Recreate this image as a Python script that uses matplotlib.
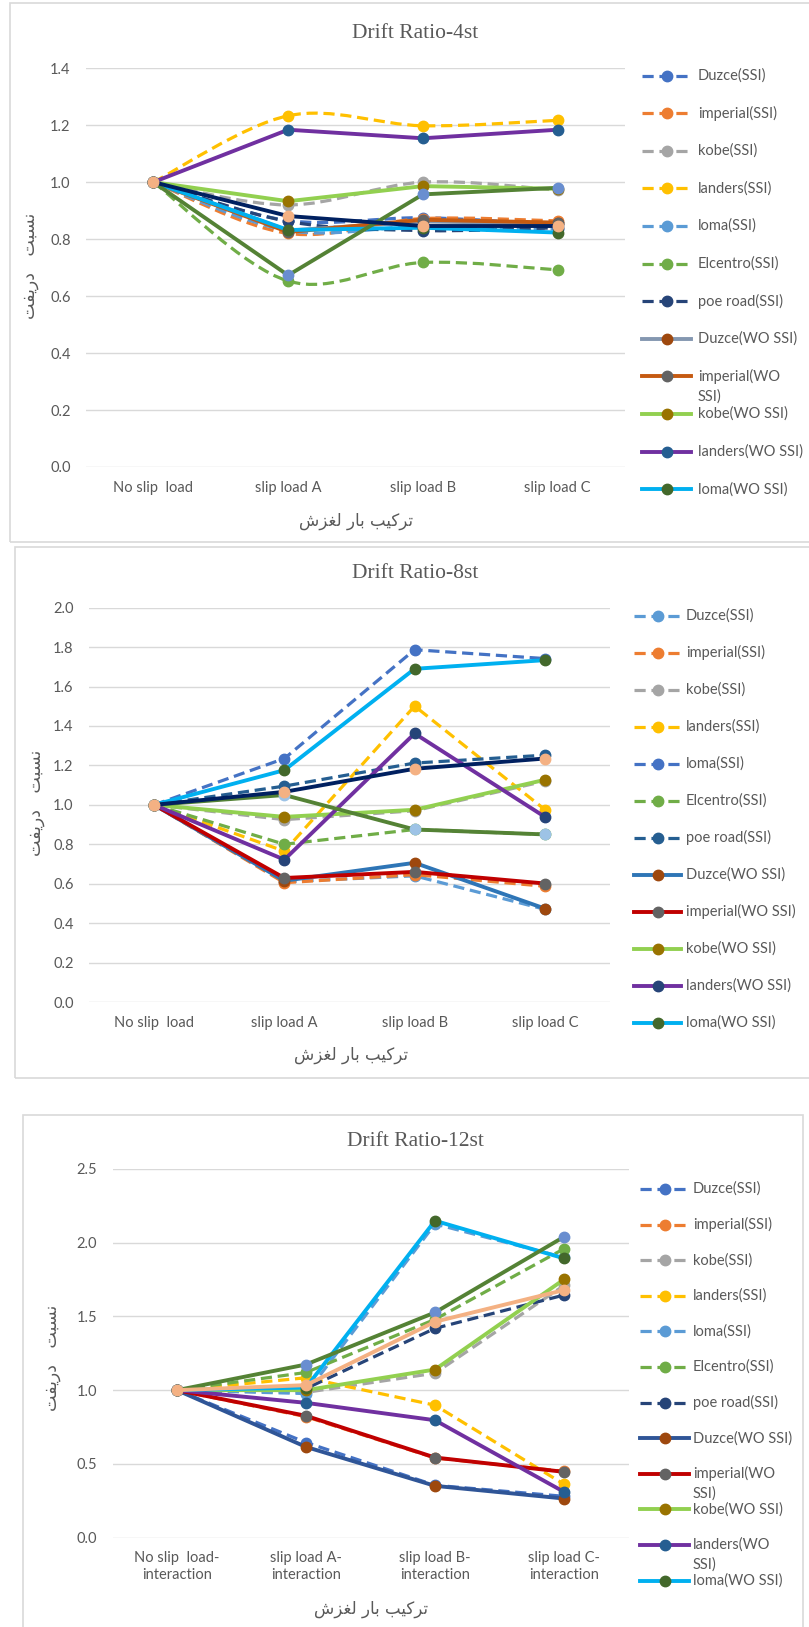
import matplotlib.pyplot as plt
import numpy as np
from matplotlib.lines import Line2D
from matplotlib.patches import PathPatch, Rectangle
from matplotlib.path import Path

W, H = 809, 1627

series_names = ['Duzce(SSI)', 'imperial(SSI)', 'kobe(SSI)', 'landers(SSI)', 'loma(SSI)',
                'Elcentro(SSI)', 'poe road(SSI)', 'Duzce(WO SSI)', 'imperial(WO SSI)',
                'kobe(WO SSI)', 'landers(WO SSI)', 'loma(WO SSI)', 'Elcentro(WO SSI)',
                'poe road(WO SSI)']
n_ssi = 7        # first 7 series are the SSI (dashed) runs
n_legend = 12    # the last two series never made it into the legends

categories = ['No slip  load', 'slip load A', 'slip load B', 'slip load C']
categories_12st = ['No slip  load-\ninteraction', 'slip load A-\ninteraction',
                   'slip load B-\ninteraction', 'slip load C-\ninteraction']

# drift ratio, one row per series (same order as series_names)
ratio_4st = [
    [1.0, 0.865, 0.875, 0.850],
    [1.0, 0.820, 0.872, 0.864],
    [1.0, 0.920, 1.000, 0.972],
    [1.0, 1.233, 1.198, 1.217],
    [1.0, 0.830, 0.845, 0.835],
    [1.0, 0.653, 0.718, 0.692],
    [1.0, 0.862, 0.830, 0.840],
    [1.0, 0.830, 0.862, 0.855],
    [1.0, 0.825, 0.868, 0.858],
    [1.0, 0.933, 0.986, 0.977],
    [1.0, 1.184, 1.154, 1.184],
    [1.0, 0.832, 0.840, 0.823],
    [1.0, 0.673, 0.957, 0.980],
    [1.0, 0.881, 0.846, 0.846],
]
ratio_8st = [
    [1.0, 0.610, 0.640, 0.470],
    [1.0, 0.605, 0.646, 0.587],
    [1.0, 0.925, 0.970, 1.120],
    [1.0, 0.765, 1.501, 0.976],
    [1.0, 1.235, 1.787, 1.742],
    [1.0, 0.800, 0.875, 0.850],
    [1.0, 1.095, 1.212, 1.252],
    [1.0, 0.615, 0.706, 0.474],
    [1.0, 0.629, 0.660, 0.601],
    [1.0, 0.939, 0.975, 1.127],
    [1.0, 0.722, 1.362, 0.939],
    [1.0, 1.176, 1.690, 1.734],
    [1.0, 1.050, 0.875, 0.850],
    [1.0, 1.066, 1.183, 1.235],
]
ratio_12st = [
    [1.0, 0.645, 0.355, 0.280],
    [1.0, 0.820, 0.540, 0.450],
    [1.0, 0.985, 1.115, 1.710],
    [1.0, 1.084, 0.898, 0.362],
    [1.0, 0.977, 2.127, 1.900],
    [1.0, 1.120, 1.480, 1.959],
    [1.0, 1.011, 1.419, 1.645],
    [1.0, 0.615, 0.351, 0.265],
    [1.0, 0.826, 0.543, 0.446],
    [1.0, 1.000, 1.140, 1.751],
    [1.0, 0.914, 0.796, 0.310],
    [1.0, 1.018, 2.149, 1.894],
    [1.0, 1.174, 1.527, 2.040],
    [1.0, 1.034, 1.464, 1.679],
]

line_4st = ['#4472C4', '#ED7D31', '#A5A5A5', '#FFC000', '#5B9BD5', '#70AD47', '#264478',
            '#8497B0', '#C55A11', '#92D050', '#7030A0', '#00B0F0', '#548235', '#002060']
mark_4st = ['#4472C4', '#ED7D31', '#A5A5A5', '#FFC000', '#5B9BD5', '#70AD47', '#264478',
            '#9E480E', '#636363', '#997300', '#255E91', '#43682B', '#698ED0', '#F4B183']
line_8st = ['#5B9BD5', '#ED7D31', '#A5A5A5', '#FFC000', '#4472C4', '#70AD47', '#255E91',
            '#2E75B6', '#C00000', '#92D050', '#7030A0', '#00B0F0', '#548235', '#002060']
mark_8st = ['#5B9BD5', '#ED7D31', '#A5A5A5', '#FFC000', '#4472C4', '#70AD47', '#255E91',
            '#9E480E', '#636363', '#997300', '#264478', '#43682B', '#9DC3E6', '#F4B183']
line_12st = ['#4472C4', '#ED7D31', '#A5A5A5', '#FFC000', '#5B9BD5', '#70AD47', '#264478',
             '#2F5597', '#C00000', '#92D050', '#7030A0', '#00B0F0', '#548235', '#F4B183']
mark_12st = ['#4472C4', '#ED7D31', '#A5A5A5', '#FFC000', '#5B9BD5', '#70AD47', '#264478',
             '#9E480E', '#636363', '#997300', '#255E91', '#43682B', '#698ED0', '#F4B183']

# Persian axis titles, written in shaped (presentation) forms, visual order
x_title = '\uFEB5\uFEB0\uFED0\uFEDF \uFEAD\uFE8E\uFE91 \uFE90\uFBFF\uFB90\uFEAE\uFE97'
y_title = '\uFE96\uFED4\uFBFE\uFEAD\uFEA9   \uFE96\uFE92\uFEB4\uFEE7'

TXT = '#595959'
GRID = '#D9D9D9'
SANS = ['Lato', 'DejaVu Sans']
SERIF = ['Liberation Serif', 'DejaVu Serif']
FS = 10.5

fig = plt.figure(figsize=(W / 100, H / 100), dpi=100)


def fx(x):
    return x / W


def fy(y):
    return 1 - y / H


def smooth_path(xs, ys):
    pts = np.column_stack([xs, ys]).astype(float)
    ext = np.vstack([pts[0], pts, pts[-1]])
    verts = [pts[0]]
    codes = [Path.MOVETO]
    for i in range(len(pts) - 1):
        p0, p1, p2, p3 = ext[i], ext[i + 1], ext[i + 2], ext[i + 3]
        verts += [p1 + (p2 - p0) / 6, p2 - (p3 - p1) / 6, p2]
        codes += [Path.CURVE4] * 3
    return Path(verts, codes)


def style(i):
    if i < n_ssi:
        return dict(lw=2.3, ls=(0, (3.5, 1.8)))
    return dict(lw=2.8, ls='-')


def draw_panel(box, ymax, ystep, data, lcol, mcol, xlabels, smooth, title, title_xy,
               xt_xy, yt_xy, border, leg, wrap):
    left, top, right, bottom = box
    ax = fig.add_axes([fx(left), fy(bottom), (right - left) / W, (bottom - top) / H])
    ax.set_xlim(-0.5, 3.5)
    ax.set_ylim(0, ymax)
    ax.set_yticks(np.arange(0, ymax + 1e-9, ystep))
    ax.yaxis.set_major_formatter('{x:.1f}')
    ax.set_xticks(range(4), xlabels)
    ax.grid(axis='y', color=GRID, lw=1.0)
    ax.set_axisbelow(True)
    for s in ax.spines.values():
        s.set_visible(False)
    ax.tick_params(axis='y', length=0, pad=11)
    ax.tick_params(axis='x', length=0, pad=10)
    for lab in ax.get_xticklabels() + ax.get_yticklabels():
        lab.set_family(SANS)
        lab.set_fontsize(FS)
        lab.set_color(TXT)
    ax.patch.set_alpha(0)

    x = np.arange(4)
    for i, ys in enumerate(data):
        st = style(i)
        if smooth and i < n_ssi:
            ax.add_patch(PathPatch(smooth_path(x, ys), fill=False, edgecolor=lcol[i],
                                   lw=st['lw'], ls=st['ls'], zorder=2 + i * 0.01))
            ax.plot(x, ys, ls='none', marker='o', ms=7.5, color=mcol[i], zorder=2 + i * 0.01)
        else:
            ax.plot(x, ys, color=lcol[i], lw=st['lw'], ls=st['ls'], marker='o', ms=7.5,
                    mfc=mcol[i], mec=mcol[i], zorder=2 + i * 0.01)

    fig.text(fx(title_xy[0]), fy(title_xy[1]), title, ha='center', va='center',
             family=SERIF, fontsize=15.5, color=TXT)
    fig.text(fx(xt_xy[0]), fy(xt_xy[1]), x_title, ha='center', va='center',
             family='DejaVu Sans', fontsize=12, color=TXT)
    fig.text(fx(yt_xy[0]), fy(yt_xy[1]), y_title, ha='center', va='center', rotation=90,
             family='DejaVu Sans', fontsize=12.5, color=TXT)

    bx0, by0, bx1, by1 = border
    fig.add_artist(Rectangle((fx(bx0), fy(by1)), (bx1 - bx0) / W, (by1 - by0) / H,
                             transform=fig.transFigure, fill=False, edgecolor=GRID, lw=1.2))

    lx0, lx1, tx, y0, step = leg
    for i in range(n_legend):
        y = y0 + i * step
        st = style(i)
        fig.add_artist(Line2D([fx(lx0), fx(lx1)], [fy(y), fy(y)], transform=fig.transFigure,
                              color=lcol[i], lw=st['lw'], ls=st['ls']))
        fig.add_artist(Line2D([fx((lx0 + lx1) / 2)], [fy(y)], transform=fig.transFigure,
                              ls='none', marker='o', ms=7.5, color=mcol[i]))
        label = wrap.get(series_names[i], series_names[i])
        for k, part in enumerate(label.split('\n')):
            fig.text(fx(tx), fy(y + k * 20), part, ha='left', va='center',
                     family=SANS, fontsize=FS, color=TXT)


draw_panel((86, 68.2, 625, 467), 1.4, 0.2, ratio_4st, line_4st, mark_4st, categories, True,
           'Drift Ratio-4st', (415, 33), (356, 521), (30, 266), (9.5, 3.5, 830, 542),
           (642, 691, 698, 75.5, 37.6), {'imperial(WO SSI)': 'imperial(WO\nSSI)'})

draw_panel((89, 607.7, 610, 1002), 2.0, 0.2, ratio_8st, line_8st, mark_8st, categories, False,
           'Drift Ratio-8st', (415, 573), (351, 1055), (36, 803), (15, 547, 830, 1078),
           (634, 681, 686, 615.7, 37.0), {})

draw_panel((112.5, 1169, 628.5, 1537.6), 2.5, 0.5, ratio_12st, line_12st, mark_12st,
           categories_12st, False,
           'Drift Ratio-12st', (415, 1142), (371.5, 1609), (52, 1358), (23, 1115, 803, 1650),
           (640, 689, 693, 1189, 35.6),
           {'imperial(WO SSI)': 'imperial(WO\nSSI)', 'landers(WO SSI)': 'landers(WO\nSSI)'})

fig.savefig('out.png', dpi=100, facecolor='white')
